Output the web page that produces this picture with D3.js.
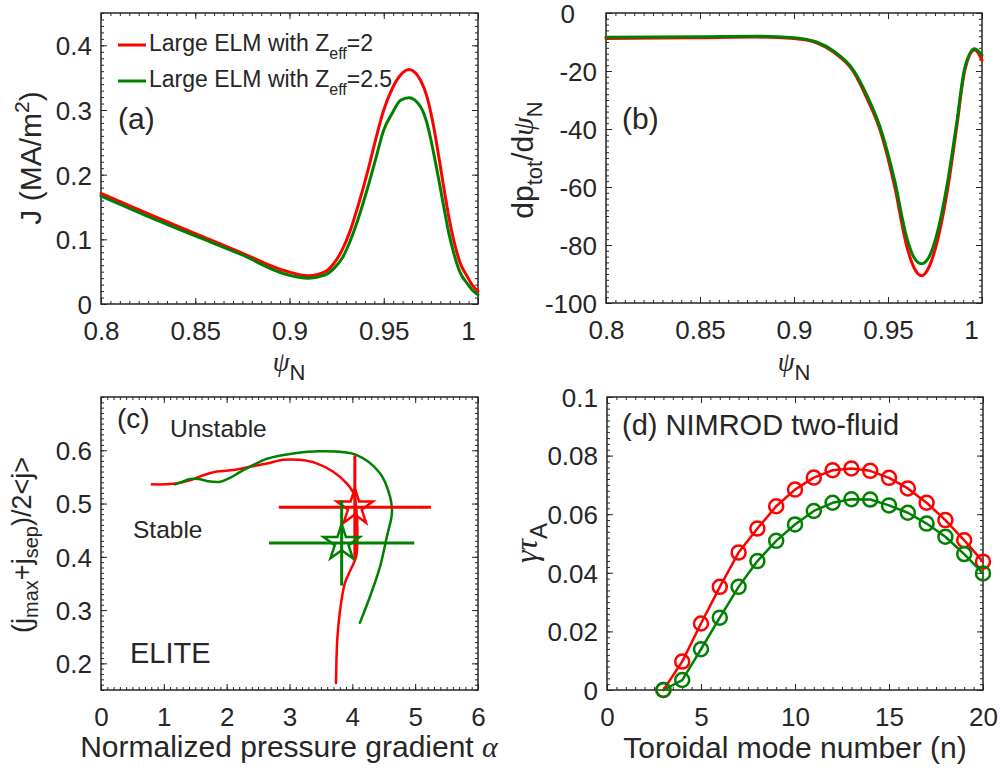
<!DOCTYPE html>
<html><head><meta charset="utf-8">
<script src="https://cdn.jsdelivr.net/npm/d3@7"></script>
<style>
body{margin:0;background:#fff}
svg{display:block}
text{font-family:"Liberation Sans",Arial,sans-serif;fill:#262626}
.greek{font-family:"Liberation Serif","DejaVu Serif",serif;font-style:italic}
</style></head><body>
<svg id="chart" width="1000" height="771"></svg>
<script>
// ---------- data ----------
// (a) current density J vs psi_N
const psiA = [0.800,0.8245,0.8494,0.874,0.898,0.910,0.919,0.9236,0.928,0.9324,0.9368,0.9412,0.9456,0.950,0.9545,0.9589,0.9634,0.9695,0.973,0.9765,0.9792,0.9818,0.9845,0.9871,0.9906,0.9942,0.9968,1.0];
const jRedA = [0.171,0.140,0.1095,0.080,0.051,0.0437,0.050,0.063,0.084,0.115,0.156,0.202,0.253,0.300,0.333,0.354,0.3625,0.346,0.320,0.274,0.228,0.181,0.135,0.099,0.063,0.043,0.030,0.0195];
const jGreenA = [0.167,0.136,0.106,0.077,0.046,0.040,0.045,0.055,0.071,0.099,0.135,0.177,0.223,0.269,0.295,0.315,0.319,0.305,0.279,0.233,0.192,0.151,0.110,0.079,0.048,0.032,0.022,0.0144];
// (b) pressure gradient vs psi_N
const psiB = [0.80,0.85,0.88,0.90,0.912,0.9208,0.9314,0.9385,0.9456,0.9536,0.9598,0.9640,0.9678,0.9715,0.9757,0.9819,0.9864,0.9908,0.9961,1.0];
const dpRedB = [-8.8,-8.5,-8.3,-8.8,-10.3,-13.4,-20,-29,-40,-60,-80,-88,-90.6,-88,-80,-60,-40,-20,-12.8,-16.3];
const dpGreenB = [-8.4,-8.2,-8.0,-8.5,-10.0,-13.0,-19.5,-28,-39,-58,-77,-84.5,-86.5,-84.5,-77,-57.5,-38.5,-19,-12.3,-14.6];
// (c) ELITE stability boundaries
const alphaRedC = [0.81,1.15,1.40,1.58,1.84,2.11,2.37,2.64,2.90,3.15,3.43,3.69,3.91,4.02,4.07,4.08,4.06,3.97,3.88,3.80,3.76,3.74];
const jRedC = [0.536,0.537,0.543,0.551,0.560,0.563,0.569,0.575,0.582,0.582,0.5755,0.560,0.538,0.519,0.480,0.440,0.400,0.375,0.350,0.295,0.244,0.163];
const alphaGreenC = [1.18,1.30,1.42,1.55,1.70,1.90,2.05,2.21,2.45,2.64,3.06,3.49,4.07,4.44,4.60,4.63,4.55,4.44,4.28,4.12];
const jGreenC = [0.536,0.541,0.546,0.546,0.542,0.541,0.548,0.559,0.574,0.584,0.594,0.598,0.591,0.557,0.513,0.482,0.438,0.381,0.325,0.276];
// experimental points (red, green) with error bars
const starAlpha = [4.04, 3.83];
const starJ = [0.493, 0.426];
const starAlphaErr = [1.21, 1.155];
const starJErr = [0.097, 0.080];
// (d) NIMROD growth rates
const nD = [3,4,5,6,7,8,9,10,11,12,13,14,15,16,17,18,19,20];
const gammaRedD = [0,0.0097,0.0227,0.0352,0.0469,0.0551,0.0627,0.0684,0.0725,0.0750,0.0756,0.0748,0.0724,0.0688,0.0639,0.0580,0.0511,0.0438];
const gammaGreenD = [0,0.0034,0.0139,0.0247,0.0352,0.0440,0.0509,0.0565,0.0611,0.0639,0.0651,0.0650,0.0630,0.0605,0.0568,0.0523,0.0464,0.0398];
// tick labels
const xTicksPsi = [0.8,0.85,0.9,0.95,1.0];
const xLabelsPsi = ["0.8","0.85","0.9","0.95","1"];
const yTicksA = [0,0.1,0.2,0.3,0.4];
const yLabelsA = ["0","0.1","0.2","0.3","0.4"];
const yTicksB = [-100,-80,-60,-40,-20,0];
const yLabelsB = ["-100","-80","-60","-40","-20","0"];
const xTicksC = [0,1,2,3,4,5,6];
const xLabelsC = ["0","1","2","3","4","5","6"];
const yTicksC = [0.2,0.3,0.4,0.5,0.6];
const yLabelsC = ["0.2","0.3","0.4","0.5","0.6"];
const xTicksD = [0,5,10,15,20];
const xLabelsD = ["0","5","10","15","20"];
const yTicksD = [0,0.02,0.04,0.06,0.08,0.1];
const yLabelsD = ["0","0.02","0.04","0.06","0.08","0.1"];

// ---------- drawing ----------
const RED = '#ff0000', GREEN = '#008000', AX = '#262626';
const svg = d3.select('#chart');

function minorVals(dom, step){
  const n = Math.round((dom[1]-dom[0])/step);
  return d3.range(n+1).map(i => dom[0] + i*step);
}

function frame(x, y, xt, xl, yt, yl, xm, ym){
  const g = svg.append('g');
  const [x0,x1] = x.range(), [y0,y1] = y.range();
  const xMin = minorVals(x.domain(), xm), yMin = minorVals(y.domain(), ym);
  const strip = s => { s.select('.domain').remove(); s.attr('color',AX); s.selectAll('line').attr('stroke-width',1); };
  g.append('g').attr('transform',`translate(0,${y0})`).call(d3.axisBottom(x).tickValues(xMin).tickSize(-3).tickSizeOuter(0).tickFormat('')).call(strip);
  g.append('g').attr('transform',`translate(0,${y1})`).call(d3.axisTop(x).tickValues(xMin).tickSize(-3).tickSizeOuter(0).tickFormat('')).call(strip);
  g.append('g').attr('transform',`translate(${x0},0)`).call(d3.axisLeft(y).tickValues(yMin).tickSize(-3).tickSizeOuter(0).tickFormat('')).call(strip);
  g.append('g').attr('transform',`translate(${x1},0)`).call(d3.axisRight(y).tickValues(yMin).tickSize(-3).tickSizeOuter(0).tickFormat('')).call(strip);
  const bx = g.append('g').attr('transform',`translate(0,${y0})`).call(d3.axisBottom(x).tickValues(xt).tickSize(-6).tickSizeOuter(0).tickPadding(18).tickFormat((d,i)=>xl[i])).call(strip);
  g.append('g').attr('transform',`translate(0,${y1})`).call(d3.axisTop(x).tickValues(xt).tickSize(-6).tickSizeOuter(0).tickFormat('')).call(strip);
  const ly = g.append('g').attr('transform',`translate(${x0},0)`).call(d3.axisLeft(y).tickValues(yt).tickSize(-6).tickSizeOuter(0).tickPadding(9).tickFormat((d,i)=>yl[i])).call(strip);
  g.append('g').attr('transform',`translate(${x1},0)`).call(d3.axisRight(y).tickValues(yt).tickSize(-6).tickSizeOuter(0).tickFormat('')).call(strip);
  [bx,ly].forEach(a => a.attr('font-size',26).attr('font-family','"Liberation Sans",Arial,sans-serif'));
  ly.selectAll('text').attr('dy','0.36em');
  g.append('rect').attr('x',x0).attr('y',y1).attr('width',x1-x0).attr('height',y0-y1)
    .attr('fill','none').attr('stroke',AX).attr('stroke-width',1.5);
  return {bx, ly};
}

function curve(x, y, xs, ys, color, w, cf){
  const pts = xs.map((v,i)=>[v, ys[i]]);
  svg.append('path').datum(pts)
    .attr('d', d3.line().x(d=>x(d[0])).y(d=>y(d[1])).curve(cf))
    .attr('fill','none').attr('stroke',color).attr('stroke-width',w)
    .attr('stroke-linejoin','round').attr('stroke-linecap','round');
}

function psiLabel(cx){
  const t = svg.append('text').attr('x',cx).attr('y',371).attr('text-anchor','middle').attr('font-size',27);
  t.append('tspan').attr('class','greek').text('ψ');
  t.append('tspan').attr('font-size',22).attr('dy',9).text('N');
}

// ----- panel (a)
const xa = d3.scaleLinear().domain([0.8,1.0]).range([101,478]);
const ya = d3.scaleLinear().domain([0,0.45]).range([304,13]);
const fa = frame(xa, ya, xTicksPsi, xLabelsPsi, yTicksA, yLabelsA, 0.005, 0.01);
fa.bx.selectAll('.tick').filter(d=>d===1.0).select('text').attr('x',-10);
curve(xa, ya, psiA, jRedA, RED, 3, d3.curveMonotoneX);
curve(xa, ya, psiA, jGreenA, GREEN, 3, d3.curveMonotoneX);
const legend = [["2",RED,47],["2.5",GREEN,83]];
legend.forEach(([z,c,yy]) => {
  svg.append('line').attr('x1',118).attr('x2',146).attr('y1',yy-2).attr('y2',yy-2).attr('stroke',c).attr('stroke-width',3);
  const t = svg.append('text').attr('x',149).attr('y',yy+4).attr('font-size',23);
  t.append('tspan').text('Large ELM with Z');
  t.append('tspan').attr('font-size',16).attr('dy',8).text('eff');
  t.append('tspan').attr('dy',-8).text('='+z);
});
svg.append('text').attr('x',118).attr('y',129).attr('font-size',30).text('(a)');
{
  const t = svg.append('text').attr('transform','translate(41,158) rotate(-90)').attr('text-anchor','middle').attr('font-size',30);
  t.append('tspan').text('J (MA/m');
  t.append('tspan').attr('font-size',21).attr('dy',-12).text('2');
  t.append('tspan').attr('dy',12).text(')');
}
psiLabel(289);

// ----- panel (b)
const xb = d3.scaleLinear().domain([0.8,1.0]).range([606,982]);
const yb = d3.scaleLinear().domain([-100,0]).range([303,13]);
const fb = frame(xb, yb, xTicksPsi, xLabelsPsi, yTicksB, yLabelsB, 0.005, 2);
fb.bx.selectAll('.tick').filter(d=>d===1.0).select('text').attr('x',-11);
fb.ly.selectAll('.tick').filter(d=>d===0).select('text').attr('x',-31);
curve(xb, yb, psiB, dpRedB, RED, 3, d3.curveMonotoneX);
curve(xb, yb, psiB, dpGreenB, GREEN, 3, d3.curveMonotoneX);
svg.append('text').attr('x',622).attr('y',129).attr('font-size',30).text('(b)');
{
  const t = svg.append('text').attr('transform','translate(533,160) rotate(-90)').attr('text-anchor','middle').attr('font-size',30);
  t.append('tspan').text('dp');
  t.append('tspan').attr('font-size',22).attr('dy',9).text('tot');
  t.append('tspan').attr('dy',-9).text('/d');
  t.append('tspan').attr('class','greek').text('ψ');
  t.append('tspan').attr('font-size',22).attr('dy',9).text('N');
}
psiLabel(794);

// ----- panel (c)
const xc = d3.scaleLinear().domain([0,6]).range([101,478]);
const yc = d3.scaleLinear().domain([0.15,0.7]).range([690,397]);
frame(xc, yc, xTicksC, xLabelsC, yTicksC, yLabelsC, 0.1, 0.01);
curve(xc, yc, alphaRedC, jRedC, RED, 2.5, d3.curveCatmullRom);
curve(xc, yc, alphaGreenC, jGreenC, GREEN, 2.5, d3.curveCatmullRom);
const starColors = [RED, GREEN];
const star = d3.symbol().type(d3.symbolStar).size(19*19/0.8908130915);
starAlpha.forEach((a,i) => {
  const c = starColors[i], jj = starJ[i];
  svg.append('line').attr('x1',xc(a-starAlphaErr[i])).attr('x2',xc(a+starAlphaErr[i])).attr('y1',yc(jj)).attr('y2',yc(jj)).attr('stroke',c).attr('stroke-width',3);
  svg.append('line').attr('x1',xc(a)).attr('x2',xc(a)).attr('y1',yc(jj-starJErr[i])).attr('y2',yc(jj+starJErr[i])).attr('stroke',c).attr('stroke-width',3);
  svg.append('path').attr('d',star()).attr('transform',`translate(${xc(a)},${yc(jj)})`)
    .attr('fill','none').attr('stroke',c).attr('stroke-width',2.5);
});
svg.append('text').attr('x',117).attr('y',428).attr('font-size',28).text('(c)');
svg.append('text').attr('x',170).attr('y',437).attr('font-size',24.5).text('Unstable');
svg.append('text').attr('x',133).attr('y',538).attr('font-size',24.5).text('Stable');
svg.append('text').attr('x',130).attr('y',663).attr('font-size',29).text('ELITE');
{
  const t = svg.append('text').attr('transform','translate(31,545) rotate(-90)').attr('text-anchor','middle').attr('font-size',27);
  t.append('tspan').text('(j');
  t.append('tspan').attr('font-size',20).attr('dy',7).text('max');
  t.append('tspan').attr('dy',-7).text('+j');
  t.append('tspan').attr('font-size',20).attr('dy',7).text('sep');
  t.append('tspan').attr('dy',-7).text(')/2<j>');
}
{
  const t = svg.append('text').attr('x',289).attr('y',757).attr('text-anchor','middle').attr('font-size',30);
  t.append('tspan').text('Normalized pressure gradient ');
  t.append('tspan').attr('class','greek').text('α');
}

// ----- panel (d)
const xd = d3.scaleLinear().domain([0,20]).range([607,983]);
const yd = d3.scaleLinear().domain([0,0.1]).range([690,397]);
frame(xd, yd, xTicksD, xLabelsD, yTicksD, yLabelsD, 0.5, 0.002);
[[gammaRedD,RED],[gammaGreenD,GREEN]].forEach(([vals,c]) => {
  curve(xd, yd, nD, vals, c, 2.5, d3.curveLinear);
  svg.append('g').selectAll('circle').data(nD).join('circle')
    .attr('cx',d=>xd(d)).attr('cy',(d,i)=>yd(vals[i])).attr('r',7)
    .attr('fill','none').attr('stroke',c).attr('stroke-width',2.5);
});
svg.append('text').attr('x',622).attr('y',435).attr('font-size',29).text('(d) NIMROD two-fluid');
{
  const t = svg.append('text').attr('transform','translate(537,543) rotate(-90)').attr('text-anchor','middle').attr('font-size',32);
  t.append('tspan').attr('class','greek').text('γτ');
  t.append('tspan').attr('font-size',24).attr('dy',10).text('A');
}
{
  const t = svg.append('text').attr('x',795).attr('y',758).attr('text-anchor','middle').attr('font-size',30);
  t.append('tspan').text('Toroidal mode number (n)');
}
</script>
</body></html>
